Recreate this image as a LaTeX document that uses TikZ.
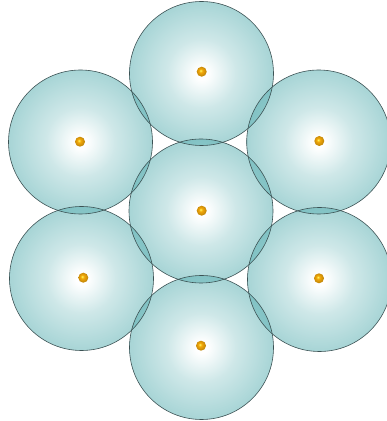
\documentclass[tikz,border=0pt]{standalone}
\usepackage{tikz}
\usetikzlibrary{shapes,positioning,calc}
\usepackage{xcolor}
\definecolor{sphteal}{RGB}{95,178,180}
\definecolor{rimgray}{RGB}{60,82,84}
\definecolor{atomorange}{RGB}{245,170,10}
\pgfdeclareradialshading{sphere}{\pgfpointorigin}{color(0bp)=(white); color(2bp)=(white); color(12bp)=(sphteal!55!white); color(25bp)=(sphteal); color(50bp)=(sphteal)}
\pgfdeclareradialshading{atomball}{\pgfpoint{-6bp}{6bp}}{color(0bp)=(yellow!60!white); color(8bp)=(atomorange); color(28bp)=(atomorange!75!black); color(50bp)=(atomorange!75!black)}

\begin{document}
\begin{tikzpicture}[x=1pt, y=1pt,
  sph/.style={circle, minimum size=144pt, inner sep=0pt, shading=sphere, fill opacity=0.55},
  rim/.style={draw=rimgray, line width=0.6pt},
  atom/.style={circle, minimum size=10pt, inner sep=0pt, shading=atomball}
]
  \useasboundingbox (0,0) rectangle (387,421);
  % spheres
  \node[sph] (top) at (201.5, 347.5) {};
  \node[sph] (ul)  at (80.5, 279)    {};
  \node[sph] (ur)  at (318.7, 279)   {};
  \node[sph] (mid) at (201, 210)     {};
  \node[sph] (ll)  at (81.5, 142.5)  {};
  \node[sph] (lr)  at (319.5, 141.5) {};
  \node[sph] (bot) at (201.5, 73.5)  {};
  \foreach \s in {top,ul,ur,mid,ll,lr,bot}{\draw[rim] (\s) circle[radius=72pt];}
  % atoms
  \node[atom] (atop) at (201.7, 349.3) {};
  \node[atom] (aul)  at (80, 279.3)    {};
  \node[atom] (aur)  at (319.3, 280)   {};
  \node[atom] (amid) at (201.7, 210.3) {};
  \node[atom] (all)  at (83.3, 143.3)  {};
  \node[atom] (alr)  at (319, 142.7)   {};
  \node[atom] (abot) at (201, 75.3)    {};
\end{tikzpicture}
\end{document}
